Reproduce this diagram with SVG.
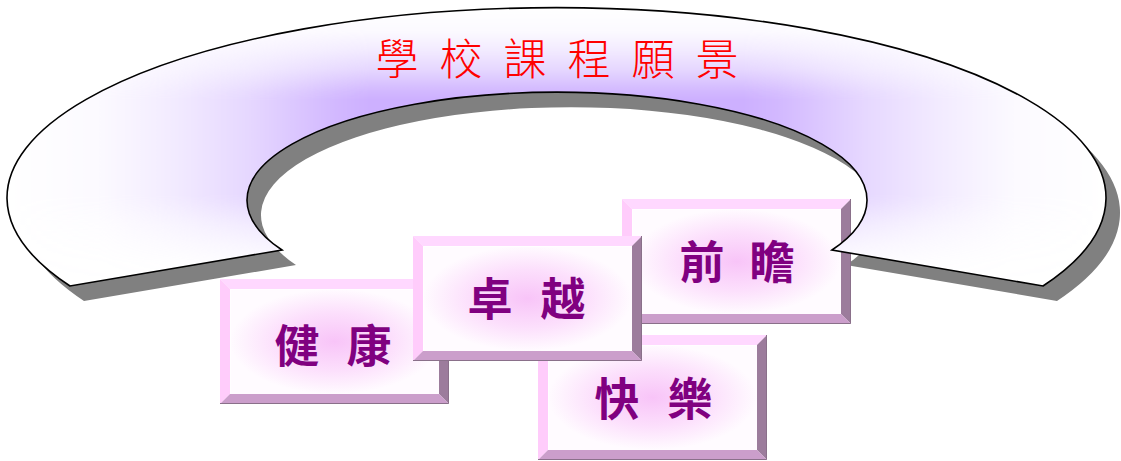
<svg xmlns="http://www.w3.org/2000/svg" xmlns:xlink="http://www.w3.org/1999/xlink" width="1121" height="461" viewBox="0 0 1121 461">
  <style>
    .title { font-family: "Noto Sans CJK TC", "Noto Sans CJK SC", sans-serif; font-size: 43px; fill: #ff0000; font-weight: 300; }
    .lbl { font-family: "Noto Sans CJK TC", "Noto Sans CJK SC", sans-serif; font-size: 45px; fill: #800080; font-weight: 700; }
    .bt { fill: #ffd8ff; }
    .bl { fill: #ffccfb; }
    .br { fill: #9c7c9c; }
    .bb { fill: #cb9ecb; }
    .edge { fill: none; stroke: #8a708a; stroke-width: 1; }
    .hl { fill: none; stroke: #ffffff; stroke-width: 1; opacity: 0.8; }
  </style>
  <defs>
    <linearGradient id="gH" x1="0" y1="0" x2="1" y2="0">
      <stop offset="0" stop-color="#fff" stop-opacity="0"/>
      <stop offset="0.085" stop-color="#fff" stop-opacity="0.07"/>
      <stop offset="0.15" stop-color="#fff" stop-opacity="0.25"/>
      <stop offset="0.22" stop-color="#fff" stop-opacity="0.5"/>
      <stop offset="0.3" stop-color="#fff" stop-opacity="0.9"/>
      <stop offset="0.33" stop-color="#fff" stop-opacity="1"/>
      <stop offset="0.67" stop-color="#fff" stop-opacity="1"/>
      <stop offset="0.7" stop-color="#fff" stop-opacity="0.9"/>
      <stop offset="0.78" stop-color="#fff" stop-opacity="0.5"/>
      <stop offset="0.85" stop-color="#fff" stop-opacity="0.25"/>
      <stop offset="0.915" stop-color="#fff" stop-opacity="0.07"/>
      <stop offset="1" stop-color="#fff" stop-opacity="0"/>
    </linearGradient>
    <linearGradient id="gV" x1="0" y1="0" x2="0" y2="1">
      <stop offset="0" stop-color="#fff" stop-opacity="0"/>
      <stop offset="0.085" stop-color="#fff" stop-opacity="0.07"/>
      <stop offset="0.15" stop-color="#fff" stop-opacity="0.25"/>
      <stop offset="0.22" stop-color="#fff" stop-opacity="0.5"/>
      <stop offset="0.3" stop-color="#fff" stop-opacity="0.9"/>
      <stop offset="0.33" stop-color="#fff" stop-opacity="1"/>
      <stop offset="0.67" stop-color="#fff" stop-opacity="1"/>
      <stop offset="0.7" stop-color="#fff" stop-opacity="0.9"/>
      <stop offset="0.78" stop-color="#fff" stop-opacity="0.5"/>
      <stop offset="0.85" stop-color="#fff" stop-opacity="0.25"/>
      <stop offset="0.915" stop-color="#fff" stop-opacity="0.07"/>
      <stop offset="1" stop-color="#fff" stop-opacity="0"/>
    </linearGradient>
    <mask id="mH" maskUnits="userSpaceOnUse" x="0" y="0" width="1121" height="461">
      <rect x="7" y="8" width="1099" height="278" fill="url(#gH)"/>
    </mask>
    <mask id="mV" maskUnits="userSpaceOnUse" x="0" y="0" width="1121" height="461">
      <rect x="7" y="8" width="1099" height="278" fill="url(#gV)"/>
    </mask>
    <radialGradient id="faceGrad" cx="0.5" cy="0.5" r="0.5">
      <stop offset="0" stop-color="#f8c4f8"/>
      <stop offset="0.55" stop-color="#fcdffc"/>
      <stop offset="1" stop-color="#fffbff"/>
    </radialGradient>
    <path id="archShape" d="M 70 286 A 549.5 190 0 1 1 1043 286 L 832 250 A 310 108 0 1 0 282 250 Z"/>
    <g id="box">
      <rect x="10" y="10" width="209" height="105" fill="url(#faceGrad)"/>
      <polygon class="bt" points="0,0 229,0 219,10 10,10"/>
      <polygon class="bl" points="0,0 10,10 10,115 0,125"/>
      <polygon class="br" points="229,0 229,125 219,115 219,10"/>
      <polygon class="bb" points="0,125 10,115 219,115 229,125"/>
      <polyline class="hl" points="10.5,115 10.5,10.5 219,10.5"/>
      <polyline class="edge" points="228.5,0 228.5,124.5 0,124.5"/>
    </g>
  </defs>

  <g id="connectors"/>

  <g id="arch-shadow">
    <use xlink:href="#archShape" href="#archShape" transform="translate(14 15)" fill="#808080"/>
  </g>

  <g id="node-health">
    <use xlink:href="#box" href="#box" x="220" y="279"/>
    <text class="lbl" x="297 333 369" y="363" text-anchor="middle">健 康</text>
  </g>

  <g id="node-happy">
    <use xlink:href="#box" href="#box" x="538" y="335"/>
    <text class="lbl" x="617 653 690" y="416" text-anchor="middle">快 樂</text>
  </g>

  <g id="node-vision">
    <use xlink:href="#box" href="#box" x="622" y="199"/>
    <text class="lbl" x="702 737 772" y="279" text-anchor="middle">前 瞻</text>
  </g>

  <g id="arch">
    <use xlink:href="#archShape" href="#archShape" fill="#ffffff"/>
    <g mask="url(#mV)">
      <use xlink:href="#archShape" href="#archShape" fill="#cdb0ff" mask="url(#mH)"/>
    </g>
    <use xlink:href="#archShape" href="#archShape" fill="none" stroke="#000000" stroke-width="1.6" stroke-linejoin="miter"/>
    <text class="title" x="397 429 461 493 525 557 589 621 653 685 717" y="75" text-anchor="middle">學 校 課 程 願 景</text>
  </g>

  <g id="node-excellence">
    <use xlink:href="#box" href="#box" x="413" y="236"/>
    <text class="lbl" x="490 527 563" y="316" text-anchor="middle">卓 越</text>
  </g>
</svg>
